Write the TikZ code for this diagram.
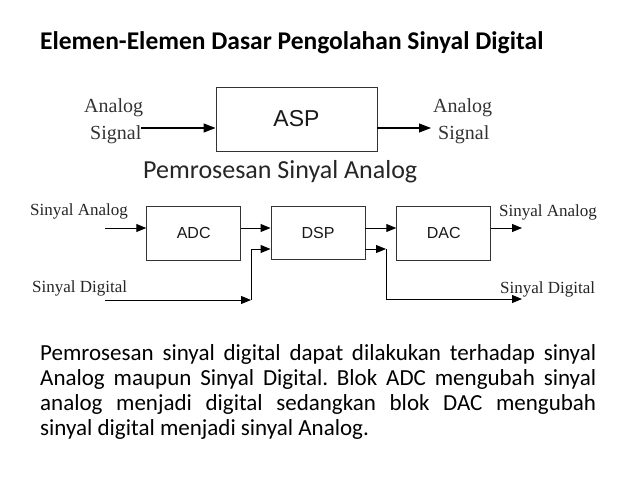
\documentclass[tikz,border=0pt]{standalone}
\usepackage{fontspec}
\setmainfont{Carlito}
\newfontfamily\arialf{Liberation Sans}
\newfontfamily\timesf{Liberation Serif}
\usetikzlibrary{arrows.meta}
\frenchspacing
\begin{document}
\begin{tikzpicture}[x=1pt,y=-1pt,
  box/.style={draw=black!80, line width=0.9pt, inner sep=0pt, font=\arialf\fontsize{16}{16}\selectfont, text=black!90},
  conn/.style={line width=1pt, -{Triangle[length=10pt,width=8pt]}},
  lab/.style={font=\timesf\fontsize{17}{17}\selectfont, anchor=base west, inner sep=0pt, text=black!85},
  labb/.style={font=\timesf\fontsize{20}{20}\selectfont, anchor=base west, inner sep=0pt, text=black!80},
  para/.style={font=\fontsize{23}{23}\selectfont, anchor=base west, inner sep=0pt, text=black}]
\useasboundingbox (0,0) rectangle (638,479);
\fill[white] (0,0) rectangle (638,479);

% title
\node[anchor=base west, inner sep=0pt, font=\bfseries\fontsize{25.5}{25.5}\selectfont] (title) at (40,49) {Elemen-Elemen Dasar Pengolahan Sinyal Digital};

% analog processing
\node[box, minimum width=161pt, minimum height=64pt, font=\arialf\fontsize{23}{23}\selectfont] (asp) at (296.5,119) {ASP};
\node[labb] (al1) at (84,112) {Analog};
\node[labb] (al2) at (90,139) {Signal};
\node[labb] (ar1) at (433,112) {Analog};
\node[labb] (ar2) at (438,139) {Signal};
\coordinate (ain) at (141,128);
\coordinate (aout) at (431,128);
\draw[line width=1.2pt, -{Triangle[length=12pt,width=9pt]}] (ain) -- (asp.west |- ain);
\draw[line width=1.2pt, -{Triangle[length=12pt,width=9pt]}] (asp.east |- aout) -- (aout);
\node[anchor=base west, inner sep=0pt, font=\fontsize{26}{26}\selectfont, text=black!85] (psa) at (143,178) {Pemrosesan Sinyal Analog};

% digital processing
\node[box, minimum width=94pt, minimum height=54pt] (adc) at (193.7,233) {ADC};
\node[box, minimum width=94pt, minimum height=53pt] (dsp) at (318,233) {DSP};
\node[box, minimum width=94pt, minimum height=54pt] (dac) at (443.7,233) {DAC};

\node[lab] (sal) at (30,215) {Sinyal Analog};
\node[lab] (sdl) at (32,292) {Sinyal Digital};
\node[lab] (sar) at (499,216) {Sinyal Analog};
\node[lab] (sdr) at (500,293) {Sinyal Digital};

\coordinate (sa) at (105,228);
\coordinate (sao) at (522,228);
\coordinate (sd) at (105,300);
\coordinate (j1) at (251,300);
\coordinate (d2in) at (251,249);
\coordinate (j2) at (386,249);
\coordinate (sdo) at (522,299);

\draw[conn] (sa) -- (adc.west |- sa);
\draw[conn] (adc.east |- sa) -- (dsp.west |- sa);
\draw[conn] (dsp.east |- sa) -- (dac.west |- sa);
\draw[conn] (dac.east |- sao) -- (sao);
\draw[conn] (sd) -- (j1);
\draw[conn] (j1) -- (d2in) -- (dsp.west |- d2in);
\draw[conn] (dsp.east |- j2) -- (j2);
\draw[conn] (j2) |- (sdo);

% paragraph
\node[para] (p1) at (40,360) {\makebox[556pt][s]{Pemrosesan sinyal digital dapat dilakukan terhadap sinyal}};
\node[para] (p2) at (40,385.3) {\makebox[556pt][s]{Analog maupun Sinyal Digital. Blok ADC mengubah sinyal}};
\node[para] (p3) at (40,410.3) {\makebox[556pt][s]{analog menjadi digital sedangkan blok DAC mengubah}};
\node[para] (p4) at (40,435.3) {sinyal digital menjadi sinyal Analog.};
\end{tikzpicture}
\end{document}
